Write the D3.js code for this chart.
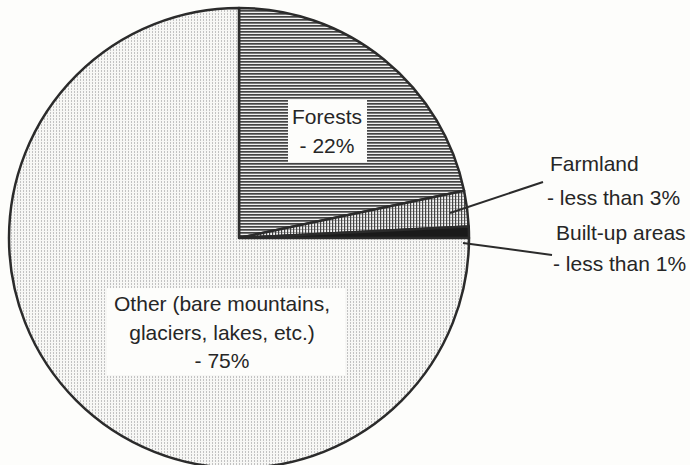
<!DOCTYPE html>
<html>
<head>
<meta charset="utf-8">
<script src="https://cdn.jsdelivr.net/npm/d3@7"></script>
<style>
  html, body { margin: 0; padding: 0; background: #fdfdfb; }
  text { font-family: "Liberation Sans", Arial, sans-serif; fill: #262626; }
</style>
</head>
<body>
<div id="chart"></div>
<script>
// land use shares, clockwise from 12 o'clock
const categories = ["Forests", "Farmland", "Built-up areas", "Other"];
const shares = [21.7, 2.5, 0.8, 75.0];
const labelLines = [
    ["Forests", "- 22%"],
    ["Farmland", "- less than 3%"],
    ["Built-up areas", "- less than 1%"],
    ["Other (bare mountains,", "glaciers, lakes, etc.)", "- 75%"]
];

const width = 690, height = 465;
const cx = 239, cy = 238, radius = 230;

const svg = d3.select("#chart").append("svg")
    .attr("width", width)
    .attr("height", height);

// hatch patterns
const defs = svg.append("defs");

let p = defs.append("pattern").attr("id", "pat-forest")
    .attr("patternUnits", "userSpaceOnUse").attr("width", 4).attr("height", 3);
p.append("rect").attr("width", 4).attr("height", 3).attr("fill", "#f0f0f0");
p.append("rect").attr("y", 0).attr("width", 4).attr("height", 1.7).attr("fill", "#444");

p = defs.append("pattern").attr("id", "pat-farm")
    .attr("patternUnits", "userSpaceOnUse").attr("width", 3).attr("height", 3);
p.append("rect").attr("width", 3).attr("height", 3).attr("fill", "#f2f2f2");
p.append("rect").attr("y", 0).attr("width", 3).attr("height", 0.8).attr("fill", "#9a9a9a");
p.append("rect").attr("x", 0).attr("width", 1.2).attr("height", 3).attr("fill", "#444");

p = defs.append("pattern").attr("id", "pat-other")
    .attr("patternUnits", "userSpaceOnUse").attr("width", 3).attr("height", 3);
p.append("rect").attr("width", 3).attr("height", 3).attr("fill", "#f7f7f5");
p.append("rect").attr("x", 0).attr("y", 0).attr("width", 1).attr("height", 2).attr("fill", "#c2c2c2");

const fills = ["url(#pat-forest)", "url(#pat-farm)", "#1a1a1a", "url(#pat-other)"];

const data = categories.map((c, i) => ({name: c, value: shares[i], lines: labelLines[i], fill: fills[i]}));

const pie = d3.pie().sort(null).value(d => d.value);
const arc = d3.arc().innerRadius(0).outerRadius(radius);
const arcs = pie(data);

const g = svg.append("g").attr("transform", `translate(${cx},${cy})`);

g.selectAll(".slice")
    .data(arcs)
    .enter()
    .append("path")
    .attr("class", "slice")
    .attr("d", arc)
    .attr("fill", d => d.data.fill)
    .attr("stroke", "#2b2b2b")
    .attr("stroke-width", 2.5)
    .attr("stroke-linejoin", "round");

// inside labels with white boxes
const lineH = 28.5;
function boxLabel(d, x, y, bx, by, bw, bh) {
    g.append("rect")
        .attr("x", bx - cx).attr("y", by - cy)
        .attr("width", bw).attr("height", bh)
        .attr("fill", "#fdfdfb");
    const t = g.append("text")
        .attr("text-anchor", "middle")
        .attr("font-size", 21);
    d.data.lines.forEach((l, i) => {
        t.append("tspan").attr("x", x - cx).attr("y", y - cy + i * lineH).text(l);
    });
}
boxLabel(arcs[0], 327, 124, 288, 100, 79, 62);
boxLabel(arcs[3], 222, 311, 107, 288, 238, 87);

// outside labels with leader lines
const leaders = [
    {i: 1, from: [450, 213], to: [543, 182], tx: 548, ty: 171, gap: 34},
    {i: 2, from: [463, 243], to: [552, 255], tx: 554, ty: 240, gap: 31}
];
leaders.forEach(l => {
    svg.append("line")
        .attr("x1", l.from[0]).attr("y1", l.from[1])
        .attr("x2", l.to[0]).attr("y2", l.to[1])
        .attr("stroke", "#2b2b2b").attr("stroke-width", 2);
    const t = svg.append("text").attr("font-size", 21);
    arcs[l.i].data.lines.forEach((line, k) => {
        t.append("tspan")
            .attr("x", l.tx + (k === 0 ? 2 : -1))
            .attr("y", l.ty + k * l.gap)
            .text(line);
    });
});
</script>
</body>
</html>
